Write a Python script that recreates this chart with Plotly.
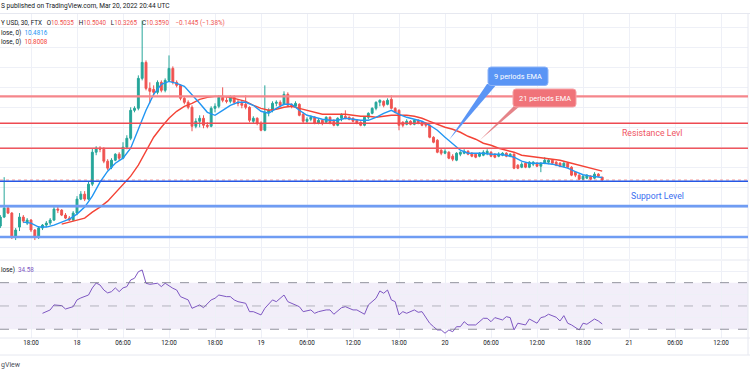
import pandas as pd
import plotly.graph_objects as go

W, H = 750, 375

# ---------------- data ----------------
candle_time = pd.date_range("2022-03-17 14:00", periods=158, freq="30min")

candle_open = [
    8.05, 8.50, 8.95, 8.70, 7.55, 8.00, 8.50, 8.20, 8.35, 7.85,
    7.50, 7.95, 8.10, 8.20, 8.35, 8.90, 8.85, 8.60, 8.45, 8.35,
    8.70, 9.40, 9.65, 9.40, 10.15, 11.75, 11.95, 11.90, 11.30, 11.00,
    11.35, 11.65, 11.45, 12.00, 12.45, 13.85, 13.95, 15.45, 16.25, 14.95,
    14.90, 14.75, 15.25, 14.85, 15.35, 15.95, 15.25, 15.10, 14.45, 14.25,
    14.00, 13.05, 13.30, 13.45, 13.10, 13.05, 13.95, 14.05, 14.50, 14.35,
    14.30, 14.50, 14.25, 14.20, 14.15, 14.00, 13.30, 13.45, 13.20, 12.85,
    13.75, 13.85, 14.20, 14.25, 14.15, 14.65, 14.10, 14.05, 14.15, 13.65,
    13.30, 13.40, 13.50, 13.20, 13.35, 13.25, 13.50, 13.30, 13.10, 13.45,
    13.55, 13.50, 13.45, 13.35, 13.25, 13.10, 13.50, 13.70, 13.95,
    14.25, 14.30, 14.15, 14.40, 13.95, 13.85, 13.25, 13.15, 13.30, 13.15,
    13.35, 13.25, 13.20, 13.10, 12.50, 12.35, 11.85, 11.70, 11.75, 11.55,
    11.35, 11.65, 11.70, 11.80, 11.70, 11.65, 11.55, 11.60, 11.70, 11.75,
    11.65, 11.55, 11.60, 11.70, 11.55, 11.65, 11.10, 11.00, 11.20, 11.00,
    11.15, 11.20, 11.05, 11.20, 11.25, 11.35, 11.25, 11.20, 11.05, 11.20,
    11.00, 10.75, 10.60, 10.40, 10.45, 10.55, 10.45, 10.65, 10.5035,
]
candle_high = [
    8.60, 10.50, 9.05, 8.75, 7.95, 8.70, 8.60, 8.45, 8.40, 7.90,
    8.05, 8.15, 8.30, 8.45, 9.00, 9.10, 8.90, 8.70, 8.55, 8.80,
    9.55, 9.80, 9.80, 10.30, 11.95, 12.05, 12.05, 12.00, 11.40, 11.45,
    11.70, 11.75, 12.25, 12.60, 14.00, 14.05, 15.60, 18.35, 16.35, 15.25,
    15.10, 15.35, 15.35, 15.45, 16.60, 16.05, 15.35, 15.15, 14.55, 14.35,
    14.10, 13.45, 13.60, 13.60, 13.25, 14.05, 14.20, 14.60, 15.00, 14.50,
    14.60, 14.60, 14.40, 14.35, 14.60, 14.05, 13.55, 13.50, 13.30, 15.10,
    13.95, 14.30, 14.35, 14.35, 14.80, 14.75, 14.20, 14.30, 14.20, 13.75,
    13.50, 13.60, 13.55, 13.45, 13.40, 13.55, 13.55, 13.40, 13.50, 13.70,
    13.85, 13.55, 13.50, 13.40, 13.30, 13.55, 13.75, 14.00, 14.30,
    14.40, 14.35, 14.45, 14.60, 14.00, 13.90, 13.30, 13.40, 13.35, 13.40,
    13.40, 13.30, 13.25, 13.15, 12.55, 12.40, 11.90, 11.90, 11.80, 11.65,
    11.75, 11.80, 11.90, 11.85, 11.75, 11.70, 11.75, 11.85, 11.90, 11.80,
    11.70, 11.75, 11.75, 11.75, 11.70, 11.70, 11.15, 11.25, 11.25, 11.30,
    11.30, 11.25, 11.25, 11.50, 11.40, 11.40, 11.30, 11.25, 11.25, 11.25,
    11.05, 10.80, 10.65, 10.60, 10.65, 10.60, 10.75, 10.70, 10.5040,
]
candle_low = [
    7.95, 8.45, 8.65, 7.40, 7.35, 7.80, 8.20, 8.10, 7.75, 7.35,
    7.40, 7.85, 8.00, 8.10, 8.30, 8.70, 8.55, 8.40, 8.30, 8.30,
    8.60, 9.35, 9.30, 9.35, 10.05, 11.60, 11.75, 11.20, 10.85, 10.90,
    11.30, 11.35, 11.40, 11.90, 12.35, 13.75, 13.85, 15.35, 14.85, 14.20,
    14.60, 14.65, 14.75, 14.75, 15.30, 15.15, 15.00, 14.35, 14.15, 13.90,
    12.80, 12.95, 13.00, 12.95, 12.95, 13.00, 13.75, 13.95, 14.25, 14.20,
    14.20, 14.15, 14.05, 13.95, 13.90, 13.25, 13.20, 13.10, 12.80, 12.80,
    13.55, 13.75, 14.05, 14.00, 14.10, 14.05, 13.95, 14.00, 13.55, 13.20,
    13.20, 13.30, 13.15, 13.15, 13.10, 13.20, 13.15, 13.05, 13.05, 13.30,
    13.40, 13.35, 13.25, 13.15, 13.05, 13.05, 13.40, 13.65, 13.85,
    14.05, 14.00, 14.10, 13.90, 13.70, 12.85, 13.00, 13.10, 13.10, 13.10,
    13.15, 13.05, 13.00, 12.45, 12.20, 11.70, 11.60, 11.65, 11.40, 11.30,
    11.30, 11.55, 11.65, 11.60, 11.50, 11.45, 11.50, 11.55, 11.60, 11.50,
    11.45, 11.50, 11.55, 11.50, 11.50, 10.90, 10.90, 10.95, 10.95, 10.95,
    11.05, 11.00, 10.75, 11.15, 11.15, 11.15, 11.05, 11.00, 11.00, 10.95,
    10.55, 10.50, 10.35, 10.35, 10.40, 10.35, 10.40, 10.50, 10.3265,
]
candle_close = [
    8.50, 8.95, 8.70, 7.55, 7.85, 8.50, 8.30, 8.35, 7.85, 7.50,
    7.95, 8.10, 8.20, 8.35, 8.90, 8.85, 8.60, 8.45, 8.35, 8.70,
    9.40, 9.65, 9.40, 10.15, 11.75, 11.95, 11.90, 11.30, 10.95, 11.35,
    11.65, 11.45, 12.00, 12.45, 13.85, 13.95, 15.45, 16.25, 14.95, 14.80,
    14.75, 15.25, 14.85, 15.35, 15.95, 15.25, 15.10, 14.45, 14.25, 14.00,
    13.05, 13.30, 13.45, 13.10, 13.05, 13.95, 14.05, 14.50, 14.35, 14.30,
    14.50, 14.25, 14.20, 14.10, 14.00, 13.35, 13.45, 13.20, 12.85, 13.75,
    13.85, 14.20, 14.25, 14.10, 14.65, 14.10, 14.05, 14.20, 13.60, 13.30,
    13.40, 13.50, 13.20, 13.35, 13.20, 13.50, 13.20, 13.10, 13.45, 13.60,
    13.45, 13.40, 13.30, 13.20, 13.10, 13.50, 13.70, 13.95, 14.25,
    14.35, 14.10, 14.35, 13.95, 13.75, 13.10, 13.10, 13.30, 13.15, 13.35,
    13.20, 13.10, 13.10, 12.50, 12.25, 11.75, 11.70, 11.80, 11.45, 11.40,
    11.70, 11.75, 11.80, 11.65, 11.55, 11.50, 11.70, 11.75, 11.80, 11.55,
    11.50, 11.65, 11.70, 11.55, 11.65, 10.95, 10.95, 11.15, 11.00, 11.25,
    11.25, 11.05, 11.20, 11.35, 11.35, 11.20, 11.10, 11.05, 11.20, 11.00,
    10.60, 10.60, 10.40, 10.55, 10.60, 10.40, 10.65, 10.55, 10.3590,
]

# EMA 9 (blue), read hourly from 17 Mar 17:00, plus the last bar value
ema9_time = list(pd.date_range("2022-03-17 17:00", periods=76, freq="h")) + [pd.Timestamp("2022-03-20 20:30")]
ema9_values = [
    8.25, 8.20, 8.00, 8.00, 8.10, 8.25, 8.40, 8.65, 9.00, 9.55,
    10.25, 10.80, 11.20, 11.45, 11.95, 12.90, 13.85, 14.65, 15.15, 15.30,
    15.20, 15.05, 14.65, 14.20, 13.75, 13.60, 13.85, 14.10, 14.25, 14.25,
    14.10, 13.80, 13.70, 13.95, 14.15, 14.15, 13.85, 13.60, 13.50, 13.40,
    13.35, 13.35, 13.45, 13.40, 13.35, 13.35, 13.50, 13.70, 13.85, 13.65,
    13.50, 13.40, 13.30, 13.10, 12.85, 12.50, 12.15, 11.85, 11.70, 11.70,
    11.70, 11.65, 11.65, 11.60, 11.50, 11.30, 11.20, 11.20, 11.20, 11.15,
    11.05, 10.95, 10.78, 10.62, 10.55, 10.51, 10.4816,
]
# EMA 21 (red), read hourly from 17 Mar 22:00, plus the last bar value
ema21_time = list(pd.date_range("2022-03-17 22:00", periods=71, freq="h")) + [pd.Timestamp("2022-03-20 20:30")]
ema21_values = [
    8.15, 8.25, 8.35, 8.45, 8.75, 9.00, 9.30, 9.70, 10.15, 10.55,
    11.10, 11.80, 12.50, 13.00, 13.45, 13.80, 14.05, 14.20, 14.40, 14.50,
    14.55, 14.55, 14.50, 14.40, 14.30, 14.10, 13.95, 13.85, 13.90, 14.00,
    14.05, 13.95, 13.85, 13.75, 13.65, 13.65, 13.65, 13.65, 13.60, 13.55,
    13.55, 13.50, 13.55, 13.60, 13.60, 13.60, 13.55, 13.45, 13.30, 13.15,
    13.00, 12.90, 12.75, 12.55, 12.40, 12.20, 12.10, 11.95, 11.85, 11.75,
    11.60, 11.55, 11.50, 11.45, 11.40, 11.35, 11.25, 11.15, 11.05, 10.96,
    10.86, 10.8008,
]

# RSI (14) read at these bar indices
rsi_index = [
    11, 13, 14, 16, 17, 19, 20, 21, 23, 24,
    25, 26, 27, 28, 29, 30, 31, 32, 33, 34,
    35, 36, 37, 38, 39, 41, 42, 43, 45, 46,
    47, 49, 50, 51, 52, 53, 55, 56, 57, 59,
    60, 61, 62, 64, 65, 66, 68, 69, 71, 72,
    74, 75, 76, 78, 79, 81, 82, 83, 85, 86,
    87, 89, 90, 92, 93, 95, 96, 98, 99, 100,
    101, 102, 103, 104, 105, 106, 108, 109, 110, 112,
    113, 114, 115, 116, 117, 118, 119, 120, 121, 122,
    124, 126, 127, 128, 129, 131, 132, 133, 134, 135,
    137, 138, 140, 141, 142, 143, 145, 146, 147, 148,
    149, 151, 152, 153, 155, 156, 157,
]
rsi_values = [
    43.7, 46.6, 50.9, 50.3, 47.4, 49.4, 55.2, 56.9, 59.4, 65.5,
    69.7, 68.0, 63.7, 61.2, 62.3, 65.5, 62.3, 65.5, 66.6, 72.3,
    73.8, 79.4, 80.9, 69.5, 68.6, 69.5, 66.6, 69.5, 65.2, 63.7,
    58.0, 55.2, 48.0, 49.4, 50.9, 48.5, 55.2, 56.6, 59.4, 58.0,
    58.0, 55.2, 53.7, 52.3, 45.1, 45.1, 42.3, 48.0, 55.2, 53.7,
    59.4, 53.7, 52.3, 49.4, 45.1, 46.6, 43.7, 45.1, 46.6, 46.6,
    42.9, 48.5, 49.4, 46.6, 46.6, 42.9, 50.9, 56.6, 62.9, 60.9,
    63.7, 55.2, 53.7, 42.3, 45.1, 43.7, 46.6, 44.6, 45.1, 35.2,
    32.2, 29.4, 29.4, 26.6, 29.4, 27.9, 32.2, 32.2, 36.5, 33.7,
    33.7, 39.4, 39.4, 36.5, 40.0, 38.0, 40.8, 40.0, 29.4, 35.2,
    33.7, 38.8, 35.2, 40.0, 40.8, 42.9, 40.3, 37.1, 41.7, 35.2,
    33.7, 29.4, 35.2, 34.3, 38.8, 37.1, 34.58,
]

resistance_levels = [14.55, 13.20, 11.95]
support_levels = [10.30, 9.05, 7.50]
last_price = 10.3590

tick_times = ["2022-03-17 18:00", "2022-03-18 00:00", "2022-03-18 06:00", "2022-03-18 12:00",
              "2022-03-18 18:00", "2022-03-19 00:00", "2022-03-19 06:00", "2022-03-19 12:00",
              "2022-03-19 18:00", "2022-03-20 00:00", "2022-03-20 06:00", "2022-03-20 12:00",
              "2022-03-20 18:00", "2022-03-21 00:00", "2022-03-21 06:00", "2022-03-21 12:00"]
tick_labels = ["18:00", "18", "06:00", "12:00", "18:00", "19", "06:00", "12:00",
               "18:00", "20", "06:00", "12:00", "18:00", "21", "06:00", "12:00"]

assert len(candle_open) == len(candle_high) == len(candle_low) == len(candle_close) == 158
assert len(ema9_values) == len(ema9_time)
assert len(ema21_values) == len(ema21_time)
assert len(rsi_index) == len(rsi_values)

# ---------------- helpers (layout only) ----------------
def px(x):
    return x / W

def py(y):
    return 1 - y / H

T_REF = pd.Timestamp("2022-03-18 00:00")
def t_at(xpix):
    return (T_REF + pd.Timedelta(hours=(xpix - 77) / 7.667)).isoformat()

def rrect(x0, y0, x1, y1, r):
    pts = [
        ("M", x0 + r, y0), ("L", x1 - r, y0), ("Q", x1, y0, x1, y0 + r),
        ("L", x1, y1 - r), ("Q", x1, y1, x1 - r, y1), ("L", x0 + r, y1),
        ("Q", x0, y1, x0, y1 - r), ("L", x0, y0 + r), ("Q", x0, y0, x0 + r, y0),
    ]
    s = ""
    for p in pts:
        cmd = p[0]
        coords = p[1:]
        seg = []
        for i in range(0, len(coords), 2):
            seg.append(f"{px(coords[i]):.5f},{py(coords[i+1]):.5f}")
        s += cmd + " " + " ".join(seg) + " "
    return s + "Z"

def tri(a, b, c):
    return (f"M {px(a[0]):.5f},{py(a[1]):.5f} L {px(b[0]):.5f},{py(b[1]):.5f} "
            f"L {px(c[0]):.5f},{py(c[1]):.5f} Z")

FONT = "Roboto"
DARK = "#131722"
UP = "#26a69a"
DOWN = "#ef5350"

fig = go.Figure()

fig.add_trace(go.Candlestick(
    x=candle_time, open=candle_open, high=candle_high, low=candle_low, close=candle_close,
    increasing=dict(line=dict(color=UP, width=1), fillcolor=UP),
    decreasing=dict(line=dict(color=DOWN, width=1), fillcolor=DOWN),
    whiskerwidth=0, showlegend=False, hoverinfo="skip", xaxis="x", yaxis="y",
))
fig.add_trace(go.Scatter(x=ema21_time, y=ema21_values, mode="lines",
                         line=dict(color="#f44336", width=1.4), showlegend=False,
                         hoverinfo="skip", xaxis="x", yaxis="y"))
fig.add_trace(go.Scatter(x=ema9_time, y=ema9_values, mode="lines",
                         line=dict(color="#2196f3", width=1.4), showlegend=False,
                         hoverinfo="skip", xaxis="x", yaxis="y"))
fig.add_trace(go.Scatter(x=[candle_time[i] for i in rsi_index], y=rsi_values, mode="lines",
                         line=dict(color="#7e57c2", width=1), showlegend=False,
                         hoverinfo="skip", xaxis="x2", yaxis="y2"))

shapes = []
GRIDC = "#eef0f7"
XR = 748 / W
# frame lines
for ypix in (13.5, 260, 338, 355):
    shapes.append(dict(type="line", xref="paper", yref="paper", x0=0, x1=1,
                       y0=py(ypix), y1=py(ypix), line=dict(color="#e6e8f0", width=1)))
shapes.append(dict(type="line", xref="paper", yref="paper", x0=XR, x1=XR,
                   y0=py(13.5), y1=py(355), line=dict(color="#e6e8f0", width=1)))

# RSI band and levels
shapes.append(dict(type="rect", xref="paper", yref="y2", x0=0, x1=XR, y0=30, y1=70,
                   fillcolor="rgba(126,87,194,0.10)", line=dict(width=0), layer="below"))
for lv, col in ((70, "rgba(120,123,134,0.8)"), (50, "rgba(120,123,134,0.5)"), (30, "rgba(120,123,134,0.8)")):
    shapes.append(dict(type="line", xref="paper", yref="y2", x0=0, x1=XR, y0=lv, y1=lv,
                       line=dict(color=col, width=1, dash="dash")))

# last price dotted line
shapes.append(dict(type="line", xref="paper", yref="y", x0=0, x1=XR, y0=last_price, y1=last_price,
                   line=dict(color="rgba(239,83,80,0.55)", width=1, dash="dot")))

# resistance / support lines
res_styles = [("#f5868b", 2.2), ("#ee4a52", 1.6), ("#f0575e", 1.6)]
for lv, (c, w) in zip(resistance_levels, res_styles):
    shapes.append(dict(type="line", xref="paper", yref="y", x0=0, x1=XR, y0=lv, y1=lv,
                       line=dict(color=c, width=w)))
sup_styles = [("#2457e6", 1.5), ("#6f9cf3", 2.6), ("#6f9cf3", 2.6)]
for lv, (c, w) in zip(support_levels, sup_styles):
    shapes.append(dict(type="line", xref="paper", yref="y", x0=0, x1=XR, y0=lv, y1=lv,
                       line=dict(color=c, width=w)))

# callouts
shapes.append(dict(type="path", xref="paper", yref="paper",
                   path=tri((487, 84), (449, 140), (497, 84)),
                   fillcolor="#5a95f5", line=dict(width=0)))
shapes.append(dict(type="path", xref="paper", yref="paper",
                   path=rrect(488, 67, 548, 85.5, 3),
                   fillcolor="#5a95f5", line=dict(color="#8db4f8", width=1)))
shapes.append(dict(type="path", xref="paper", yref="paper",
                   path=tri((514, 106), (480, 140), (520, 106)),
                   fillcolor="rgba(225,110,116,0.85)", line=dict(width=0)))
shapes.append(dict(type="path", xref="paper", yref="paper",
                   path=rrect(513, 89, 576, 107, 3),
                   fillcolor="#f07379", line=dict(color="#f6a3a7", width=1)))

annotations = []
def note(x, y, text, size=6.3, color=DARK, anchor="left"):
    annotations.append(dict(x=px(x), y=py(y), xref="paper", yref="paper", text=text,
                            showarrow=False, xanchor=anchor, yanchor="middle",
                            font=dict(family=FONT, size=size, color=color)))

def red(s):
    return f"<span style='color:{DOWN}'>{s}</span>"

NB = "\u00a0"
GAP = "\u2002\u00a0"
note(-1, 6.5, "S published on TradingView.com, Mar 20, 2022 20:44 UTC", size=6.6)
note(-1, 23, f"Y USD, 30, FTX{GAP}O{red('10.5035')}{GAP}H{red('10.5040')}{GAP}L{red('10.3265')}"
             f"{GAP}C{red('10.3590')}\u2002\u2002{red('−0.1445 (−1.38%)')}")
note(-1, 32.5, f"lose, 0){NB}{NB}<span style='color:#2196f3'>10.4816</span>")
note(-1, 42, f"lose, 0){NB}{NB}<span style='color:#f44336'>10.8008</span>")
note(-1, 270, f"lose){NB}{NB}<span style='color:#7e57c2'>34.58</span>")
note(-1, 365, "gView", size=7, color="#4a4d57")

note(652, 133, "Resistance Levl", size=8.7, color="#ef5563", anchor="center")
note(657, 196, "Support Level", size=8.7, color="#3b6ff0", anchor="center")
note(518, 76.5, "9 periods EMA", size=7.4, color="white", anchor="center")
note(544.5, 98.2, "21 periods EMA", size=7.4, color="white", anchor="center")

xr = [t_at(0), t_at(748)]
fig.update_layout(
    width=W, height=H, margin=dict(l=0, r=0, t=0, b=0),
    paper_bgcolor="white", plot_bgcolor="white",
    shapes=shapes, annotations=annotations, showlegend=False,
    xaxis=dict(domain=[0, XR], anchor="y", range=xr, showticklabels=False,
               tickvals=tick_times, showgrid=True, gridcolor=GRIDC, gridwidth=1,
               zeroline=False, showline=False, rangeslider=dict(visible=False),
               fixedrange=True),
    xaxis2=dict(domain=[0, XR], anchor="y2", matches="x", range=xr,
                tickvals=tick_times, ticktext=tick_labels, ticks="",
                tickfont=dict(family=FONT, size=6.3, color=DARK),
                showgrid=True, gridcolor=GRIDC, gridwidth=1, zeroline=False, showline=False),
    yaxis=dict(domain=[py(259), py(13.5)], range=[6.40, 18.70], tickvals=list(range(7, 19)),
               showticklabels=False, showgrid=True, gridcolor=GRIDC, zeroline=False),
    yaxis2=dict(domain=[py(338), py(261)], range=[22.5, 88.6], tickvals=[40, 60, 80],
                showticklabels=False, showgrid=True, gridcolor=GRIDC, zeroline=False),
)

fig.write_html("out.html", config={"displayModeBar": False},
               post_script="document.body.style.margin='0px';document.body.style.padding='0px';")
